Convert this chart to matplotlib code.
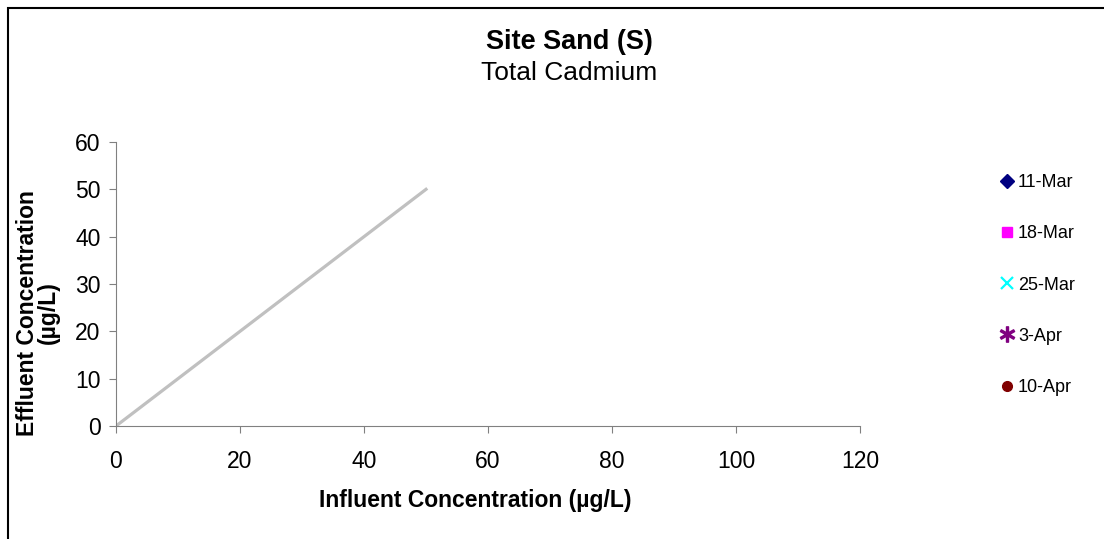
import numpy as np
import matplotlib.pyplot as plt
from matplotlib.patches import Rectangle

plt.rcParams['font.family'] = ['Liberation Sans', 'DejaVu Sans']

# sampling dates (no measured points shown in the chart)
dates = ['11-Mar', '18-Mar', '25-Mar', '3-Apr', '10-Apr']
markers = ['D', 's', 'x', '$\u2217$', 'o']
colors = ['#000080', '#ff00ff', '#00ffff', '#800080', '#800000']
influent = [[], [], [], [], []]
effluent = [[], [], [], [], []]

# 1:1 reference line
line_x = [0, 50]
line_y = [0, 50]

xticks = [0, 20, 40, 60, 80, 100, 120]
yticks = [0, 10, 20, 30, 40, 50, 60]

fig = plt.figure(figsize=(11.04, 5.39), dpi=100)
fig.patches.append(Rectangle((8/1104, -0.1), 1.2, 1.1 - 8/539, transform=fig.transFigure,
                             fill=False, edgecolor='black', linewidth=1.5))
ax = fig.add_axes([116/1104, 1-426/539, (860-116)/1104, (426-142)/539])

ax.plot(line_x, line_y, color='#c0c0c0', linewidth=2.3, zorder=2)
sizes = [7, 7, 9, 11, 7]
handles = []
for i in range(len(dates)):
    h, = ax.plot(influent[i], effluent[i], linestyle='none', marker=markers[i],
                 color=colors[i], markersize=sizes[i],
                 markeredgewidth=1.6 if i == 2 else 1, label=dates[i])
    handles.append(h)

ax.set_xlim(0, 120)
ax.set_ylim(0, 60)
ax.set_xticks(xticks)
ax.set_yticks(yticks)
ax.tick_params(direction='out', length=5, color='#808080', labelsize=16.5)
ax.tick_params(axis='x', pad=12)
ax.tick_params(axis='y', pad=6)
for s in ['top', 'right']:
    ax.spines[s].set_visible(False)
for s in ['left', 'bottom']:
    ax.spines[s].set_color('#808080')

fig.text(569/1104, 1-42/539, 'Site Sand (S)', ha='center', va='center', fontsize=19.5, fontweight='bold')
fig.text(569/1104, 1-73/539, 'Total Cadmium', ha='center', va='center', fontsize=19)
fig.text(475/1104, 1-500/539, 'Influent Concentration (µg/L)', ha='center', va='center',
         fontsize=16.5, fontweight='bold')
fig.text(38/1104, 1-313/539, 'Effluent Concentration\n(µg/L)', ha='center', va='center',
         fontsize=16.5, fontweight='bold', rotation=90, linespacing=0.85)

leg = fig.legend(handles=handles, loc='center left', bbox_to_anchor=(991/1104, 1-285/539),
                 frameon=False, fontsize=13, handlelength=0.8, handletextpad=0.2,
                 labelspacing=1.9, borderpad=0)

fig.savefig('out.png', dpi=100)
